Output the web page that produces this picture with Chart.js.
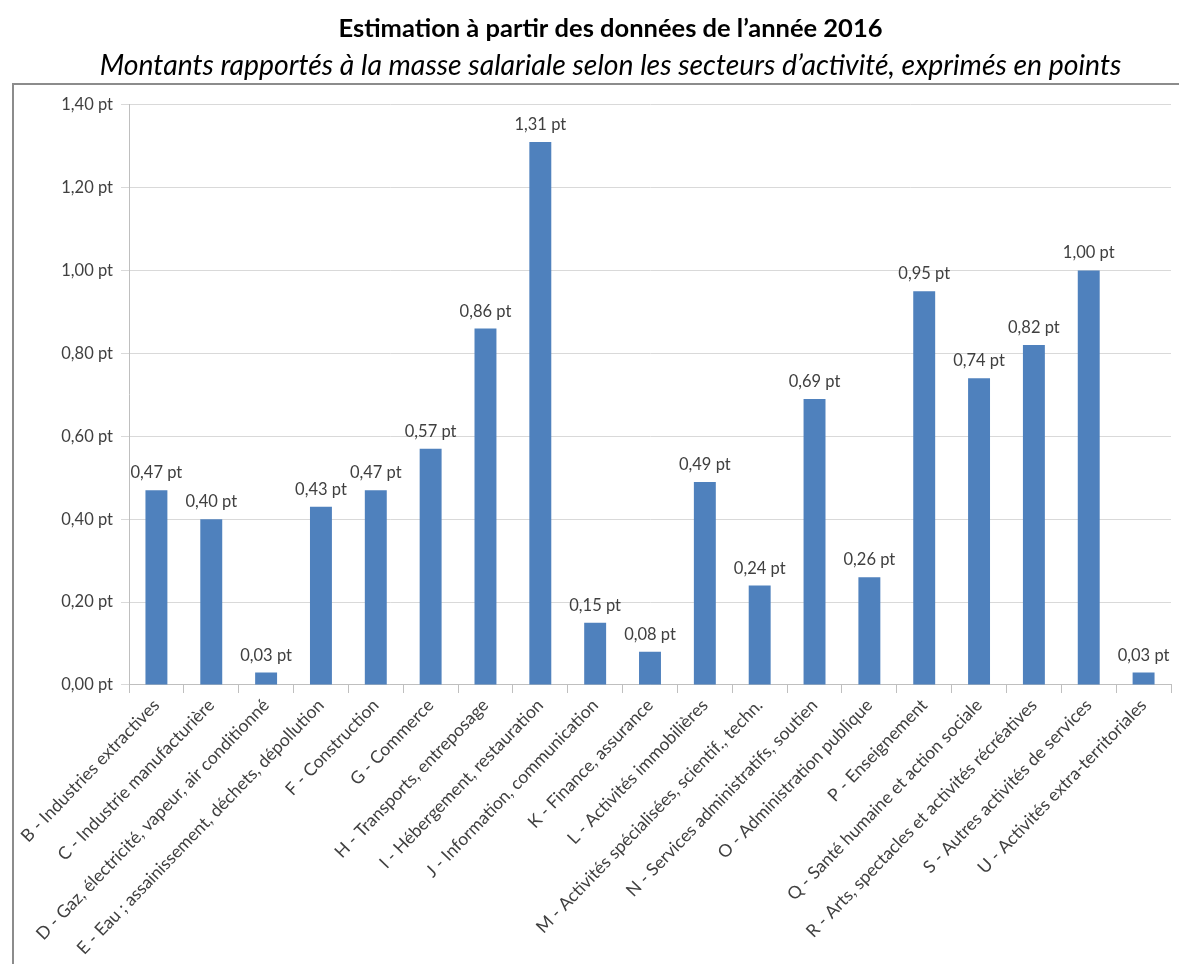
<!DOCTYPE html>
<html>
<head>
<meta charset="utf-8">
<script src="https://cdn.jsdelivr.net/npm/chart.js@4/dist/chart.umd.min.js"></script>
<style>
html,body{margin:0;padding:0;background:#fff;}
#wrap{width:1179px;height:964px;}
</style>
</head>
<body>
<div id="wrap"><canvas id="c" width="1179" height="964"></canvas></div>
<script>
const titleText = "Estimation à partir des données de l’année 2016";
const subtitleText = "Montants rapportés à la masse salariale selon les secteurs d’activité, exprimés en points";
const categories = [
  "B - Industries extractives",
  "C - Industrie manufacturière",
  "D - Gaz, électricité, vapeur, air conditionné",
  "E - Eau ; assainissement, déchets, dépollution",
  "F - Construction",
  "G - Commerce",
  "H - Transports, entreposage",
  "I - Hébergement, restauration",
  "J - Information, communication",
  "K - Finance, assurance",
  "L - Activités immobilières",
  "M - Activités spécialisées, scientif., techn.",
  "N - Services administratifs, soutien",
  "O - Administration publique",
  "P - Enseignement",
  "Q - Santé humaine et action sociale",
  "R - Arts, spectacles et activités récréatives",
  "S - Autres activités de services",
  "U - Activités extra-territoriales"
];
const values = [0.47, 0.40, 0.03, 0.43, 0.47, 0.57, 0.86, 1.31, 0.15, 0.08, 0.49, 0.24, 0.69, 0.26, 0.95, 0.74, 0.82, 1.00, 0.03];
const yTicks = [0, 0.2, 0.4, 0.6, 0.8, 1.0, 1.2, 1.4];

const fmt = v => v.toFixed(2).replace('.', ',') + ' pt';
const FONT = "Lato, 'Open Sans', sans-serif";
const TXT = '#404040';

const framePlugin = {
  id: 'frame',
  beforeDraw(chart) {
    const ctx = chart.ctx;
    ctx.save();
    ctx.fillStyle = '#fff';
    ctx.fillRect(0, 0, chart.width, chart.height);
    ctx.strokeStyle = '#8c8c8c';
    ctx.lineWidth = 2;
    ctx.strokeRect(13, 84, 1300, 1000);
    ctx.restore();
  }
};

const labelPlugin = {
  id: 'barLabels',
  afterDatasetsDraw(chart) {
    const ctx = chart.ctx;
    const meta = chart.getDatasetMeta(0);
    ctx.save();
    ctx.font = "16.5px " + FONT;
    ctx.fillStyle = TXT;
    ctx.textAlign = 'center';
    ctx.textBaseline = 'alphabetic';
    meta.data.forEach((bar, i) => {
      ctx.fillText(fmt(chart.data.datasets[0].data[i]), bar.x, bar.y - 12);
    });
    ctx.restore();
  }
};

new Chart(document.getElementById('c'), {
  type: 'bar',
  data: {
    labels: categories,
    datasets: [{
      data: values,
      backgroundColor: '#4F81BD',
      borderWidth: 0,
      barPercentage: 0.4,
      categoryPercentage: 1.0
    }]
  },
  options: {
    responsive: false,
    animation: false,
    devicePixelRatio: 1,
    layout: { padding: { left: 50, right: 8, top: 0, bottom: 0 } },
    plugins: {
      legend: { display: false },
      tooltip: { enabled: false },
      title: {
        display: true,
        text: titleText,
        color: '#000',
        font: { family: FONT, size: 25.5, weight: 'bold' },
        padding: { top: 13, bottom: 5 }
      },
      subtitle: {
        display: true,
        text: subtitleText,
        color: '#000',
        font: { family: FONT, size: 28.4, style: 'italic' },
        padding: { top: 0, bottom: 22 }
      }
    },
    scales: {
      x: {
        grid: { display: true, drawOnChartArea: false, drawTicks: true, tickLength: 8, color: '#bfbfbf' },
        border: { display: true, color: '#bfbfbf' },
        ticks: {
          color: TXT,
          font: { family: FONT, size: 17.5 },
          maxRotation: 46,
          minRotation: 46,
          autoSkip: false,
          padding: 2
        },
        afterFit(scale) { scale.height = 279; }
      },
      y: {
        min: 0,
        max: 1.4,
        afterBuildTicks(scale) { scale.ticks = yTicks.map(v => ({ value: v })); },
        grid: { color: '#d9d9d9', tickLength: 8 },
        border: { display: true, color: '#bfbfbf' },
        ticks: {
          color: TXT,
          font: { family: FONT, size: 16.5 },
          padding: 8,
          callback: v => fmt(v)
        },
        afterFit(scale) { scale.width = 79; }
      }
    }
  },
  plugins: [framePlugin, labelPlugin]
});
</script>
</body>
</html>
